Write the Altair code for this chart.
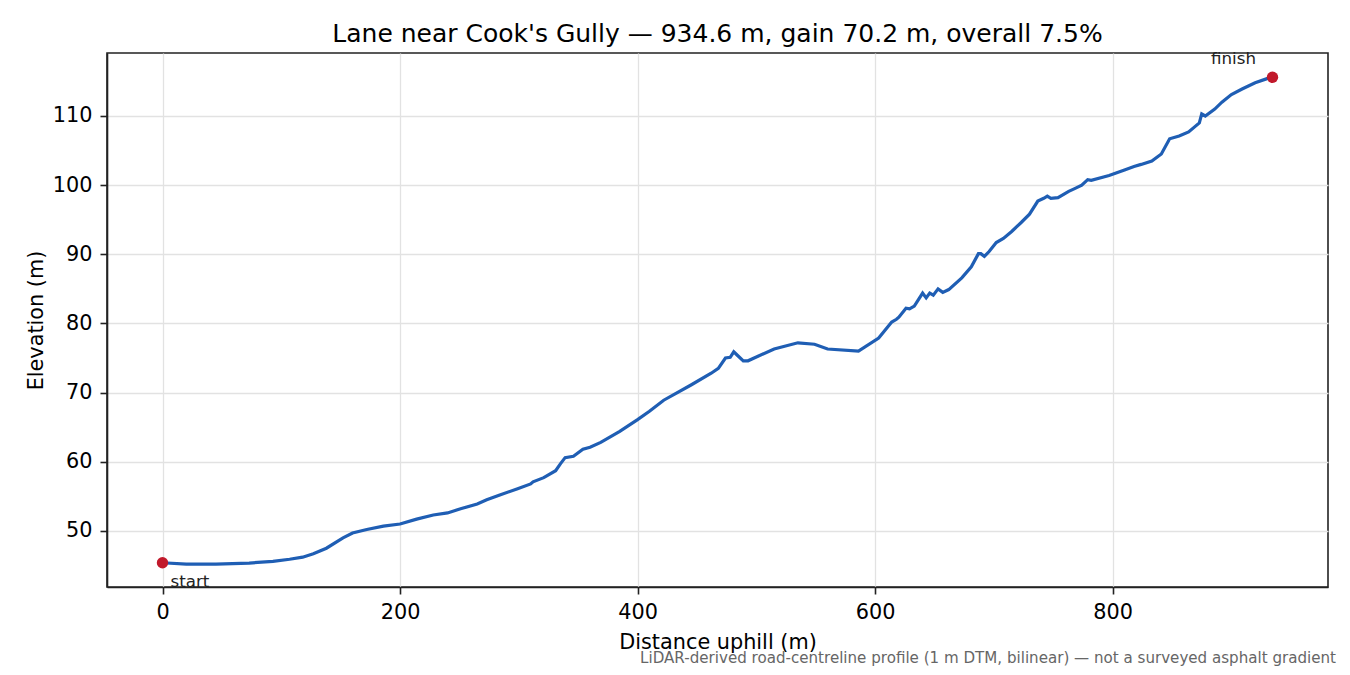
import altair as alt
import pandas as pd

# profile (distance along the lane, elevation)
dist = [0, 20, 45, 73, 93, 107, 118, 127, 138, 152, 160, 172, 186, 200, 214,
        228, 240, 251, 265, 273, 284, 299, 310, 312, 321, 331, 335, 339, 346,
        354, 360, 369, 385, 400, 410, 422, 445, 462, 468, 474, 478, 481, 484,
        489, 493, 515, 535, 549, 560, 586, 603, 614, 618, 620, 626, 629, 633,
        640, 643, 646, 649, 653, 657, 662, 673, 681, 687, 689, 692, 696, 702,
        708, 715, 723, 730, 737, 742, 745, 748, 754, 763, 768, 774, 779, 782,
        797, 810, 818, 824, 833, 841, 848, 856, 864, 873, 875, 878, 886, 892,
        900, 909, 920, 930, 934.6]
elev = [45.4, 45.2, 45.2, 45.35, 45.6, 45.9, 46.2, 46.7, 47.5, 49.0, 49.7,
        50.2, 50.7, 51.0, 51.7, 52.3, 52.6, 53.2, 53.9, 54.5, 55.2, 56.1, 56.8,
        57.1, 57.7, 58.7, 59.7, 60.6, 60.8, 61.8, 62.1, 62.8, 64.4, 66.1, 67.3,
        68.9, 71.1, 72.8, 73.5, 75.0, 75.1, 75.9, 75.4, 74.6, 74.6, 76.3, 77.2,
        77.0, 76.3, 76.0, 77.9, 80.2, 80.6, 80.9, 82.2, 82.1, 82.5, 84.4, 83.7,
        84.4, 84.1, 85.0, 84.5, 84.9, 86.6, 88.2, 90.1, 90.1, 89.7, 90.4, 91.7,
        92.3, 93.3, 94.6, 95.8, 97.7, 98.1, 98.4, 98.1, 98.2, 99.1, 99.5, 100.0,
        100.8, 100.7, 101.4, 102.2, 102.7, 103.0, 103.5, 104.5, 106.7, 107.1,
        107.7, 109.0, 110.3, 110.0, 111.0, 112.0, 113.1, 113.9, 114.8, 115.4,
        115.6]

x_ticks = [0, 200, 400, 600, 800]
y_ticks = [50, 60, 70, 80, 90, 100, 110]

title = "Lane near Cook's Gully \u2014 934.6 m, gain 70.2 m, overall 7.5%"
note = ("LiDAR-derived road-centreline profile (1 m DTM, bilinear) "
        "\u2014 not a surveyed asphalt gradient")

FONT = "DejaVu Sans"
W, H = 1221, 534

profile = pd.DataFrame({"d": dist, "e": elev})
ends = pd.DataFrame({"d": [dist[0], dist[-1]], "e": [elev[0], elev[-1]],
                     "lab": ["start", "finish"]})

x = alt.X("d:Q", scale=alt.Scale(domain=[-46.73, 981.33], nice=False, zero=False),
          axis=alt.Axis(values=x_ticks, title="Distance uphill (m)",
                        titleX=W / 2, titleY=61, titleBaseline="alphabetic",
                        titleAnchor="middle"))
y = alt.Y("e:Q", scale=alt.Scale(domain=[41.89, 119.11], nice=False, zero=False),
          axis=alt.Axis(values=y_ticks, title="Elevation (m)",
                        titleX=-65, titleY=H / 2, titleBaseline="alphabetic",
                        titleAnchor="middle"))

line = alt.Chart(profile).mark_line(color="#1f5eb4", strokeWidth=3.2).encode(x=x, y=y)

dots = alt.Chart(ends).mark_circle(color="#c1192b", opacity=1, size=130).encode(
    x="d:Q", y="e:Q")

start_lab = alt.Chart(ends.iloc[[0]]).mark_text(
    align="left", baseline="middle", dx=8, dy=19, fontSize=16.7, font=FONT,
    color="#222").encode(x="d:Q", y="e:Q", text="lab:N")
finish_lab = alt.Chart(ends.iloc[[1]]).mark_text(
    align="center", baseline="middle", dx=-39, dy=-18, fontSize=16.7, font=FONT,
    color="#222").encode(x="d:Q", y="e:Q", text="lab:N")

head = alt.Chart(pd.DataFrame({"t": [title]})).mark_text(
    align="center", baseline="alphabetic", fontSize=25, font=FONT, color="black"
).encode(x=alt.value(W / 2), y=alt.value(-11), text="t:N")

foot = alt.Chart(pd.DataFrame({"t": [note]})).mark_text(
    align="right", baseline="middle", fontSize=15.1, font=FONT, color="#666"
).encode(x=alt.value(1229), y=alt.value(605), text="t:N")

chart = alt.layer(line, dots, start_lab, finish_lab, head, foot).properties(
    width=W, height=H,
    autosize=alt.AutoSizeParams(type="none"),
    padding={"left": 99, "top": 45, "right": 14, "bottom": 80},
).configure_view(
    stroke="#222", strokeWidth=1.6
).configure_axis(
    labelFont=FONT, titleFont=FONT, labelFontSize=20.8, titleFontSize=20.8,
    titleFontWeight="normal", labelColor="black", titleColor="black",
    domainColor="#222", domainWidth=1.6, tickColor="#222", tickWidth=1.6,
    tickSize=7, labelPadding=8, gridColor="#e2e2e2", gridWidth=1.3,
    grid=True
).configure_axisX(labelFlush=False).configure_axisY(labelFlush=False)

chart.save("out.html", embed_options={"renderer": "svg", "actions": False})
